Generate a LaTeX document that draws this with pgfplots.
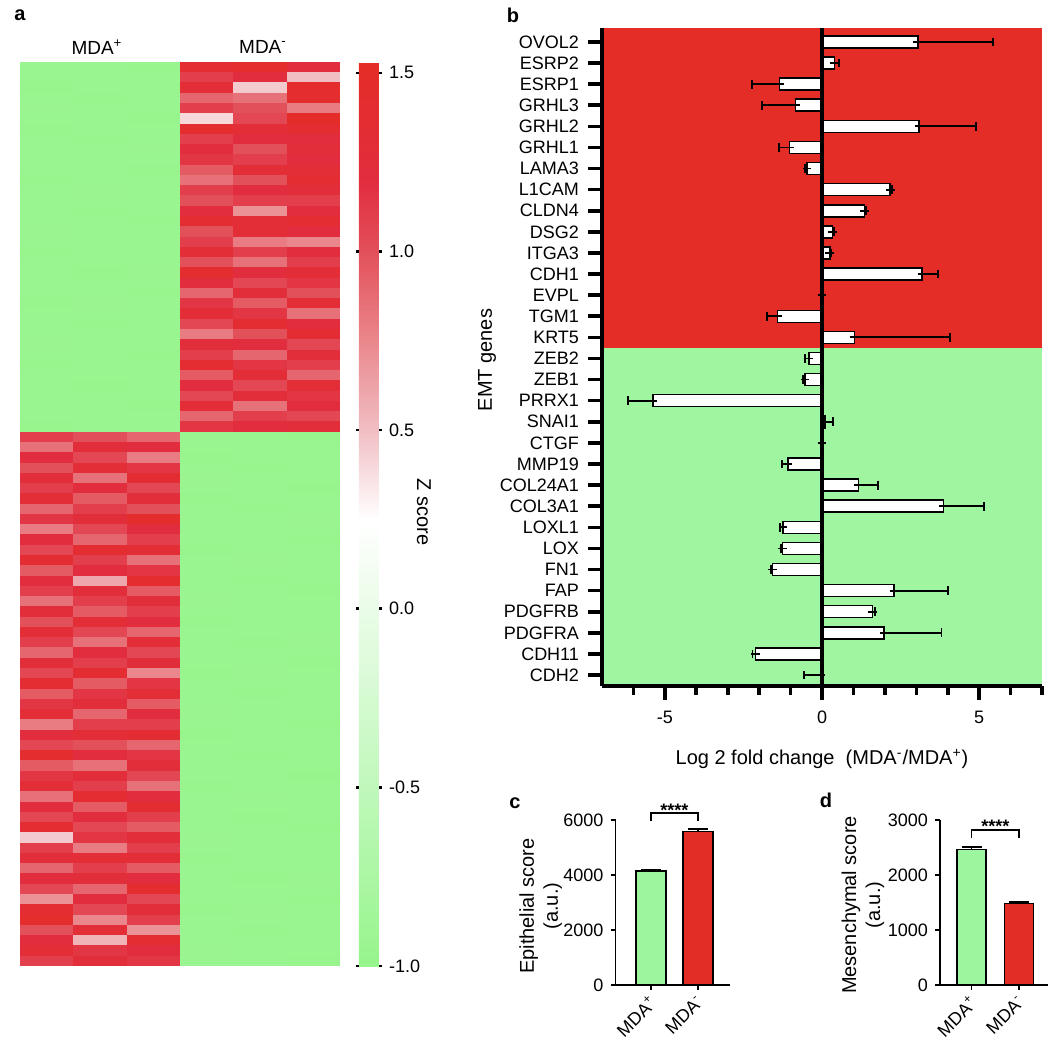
\documentclass[border=0pt]{standalone}
\usepackage{pgfplots}
\pgfplotsset{compat=1.18}
\usepackage{pgfplotstable}
\usepackage{fontspec}
\setmainfont{Liberation Sans}
\newcommand{\fs}{\fontsize{9}{10.8}\selectfont}
\definecolor{bgred}{RGB}{227,45,38}
\definecolor{bggreen}{RGB}{160,246,160}
\definecolor{bargreen}{RGB}{157,245,157}
\definecolor{barred}{RGB}{225,45,38}
\pgfplotsset{
  every axis/.append style={font=\fs},
  colormap={zmap}{rgb255(0pt)=(150,245,140); rgb255(50pt)=(192,248,187);
    rgb255(100pt)=(234,252,232); rgb255(125pt)=(255,255,255);
    rgb255(150pt)=(240,190,195); rgb255(175pt)=(234,135,140);
    rgb255(200pt)=(226,80,90); rgb255(220pt)=(226,45,62); rgb255(253pt)=(228,45,38)},
  heatcol/.style={scatter, only marks, mark=cell, point meta=explicit,
    scatter/use mapped color={draw=mapped color, fill=mapped color}},
}
\pgfdeclareplotmark{cell}{\pgfpathrectangle{\pgfqpoint{-13.4pt}{-2.62pt}}{\pgfqpoint{26.8pt}{5.24pt}}\pgfusepathqfill}

% heatmap: rows 0-35 upper block, 36-87 lower block
\pgfplotstableread{
r a1 a2 a3 b1 b2 b3
0 -0.97 -0.96 -0.98 1.35 1.45 1.20
1 -0.96 -0.97 -0.97 1.10 1.20 0.50
2 -0.98 -0.96 -0.97 1.30 0.45 1.45
3 -0.97 -0.98 -0.96 0.90 0.85 1.40
4 -0.95 -0.97 -0.97 1.10 1.00 0.80
5 -0.97 -0.96 -0.98 0.40 1.05 1.50
6 -0.98 -0.97 -0.96 1.40 1.30 1.35
7 -0.96 -0.98 -0.97 1.10 1.20 1.20
8 -0.97 -0.97 -0.95 1.20 1.00 1.25
9 -0.97 -0.96 -0.97 1.15 1.10 1.20
10 -0.96 -0.97 -0.98 0.95 1.30 1.30
11 -0.98 -0.97 -0.97 0.85 1.00 1.35
12 -0.97 -0.95 -0.96 1.10 1.20 1.25
13 -0.96 -0.97 -0.97 1.00 1.10 1.10
14 -0.97 -0.98 -0.97 1.20 0.70 1.20
15 -0.97 -0.96 -0.98 1.35 1.30 1.35
16 -0.95 -0.97 -0.97 1.00 1.30 1.20
17 -0.97 -0.97 -0.96 1.10 0.80 0.75
18 -0.98 -0.96 -0.97 1.30 1.10 1.20
19 -0.96 -0.97 -0.97 1.00 0.85 1.10
20 -0.97 -0.98 -0.95 1.40 1.20 1.30
21 -0.97 -0.96 -0.97 1.20 1.05 1.15
22 -0.96 -0.97 -0.98 0.90 1.25 1.00
23 -0.98 -0.95 -0.97 1.15 0.95 1.30
24 -0.97 -0.97 -0.96 1.30 1.15 0.85
25 -0.96 -0.98 -0.97 1.05 1.35 1.20
26 -0.97 -0.96 -0.97 0.80 1.00 1.35
27 -0.95 -0.97 -0.96 1.25 1.20 1.05
28 -0.97 -0.97 -0.98 1.10 0.90 1.25
29 -0.98 -0.96 -0.97 1.35 1.15 1.10
30 -0.96 -0.97 -0.97 0.95 1.30 0.90
31 -0.97 -0.98 -0.96 1.20 1.05 1.30
32 -0.97 -0.96 -0.97 1.05 1.25 1.15
33 -0.96 -0.97 -0.98 1.30 0.85 1.20
34 -0.97 -0.97 -0.97 0.90 1.10 1.05
35 -0.98 -0.96 -0.97 1.15 1.20 1.25
36 1.10 1.00 0.90 -0.97 -0.96 -0.98
37 0.85 1.25 1.20 -0.96 -0.97 -0.97
38 1.20 1.05 0.80 -0.98 -0.96 -0.97
39 1.00 1.30 1.15 -0.97 -0.98 -0.96
40 1.25 0.85 1.35 -0.95 -0.97 -0.97
41 1.10 1.20 1.05 -0.97 -0.96 -0.98
42 1.30 0.95 1.25 -0.98 -0.97 -0.96
43 0.90 1.10 1.00 -0.96 -0.98 -0.97
44 1.15 1.25 1.45 -0.97 -0.97 -0.95
45 0.80 1.05 1.20 -0.97 -0.96 -0.97
46 1.20 0.90 1.10 -0.96 -0.97 -0.98
47 1.05 1.35 1.30 -0.98 -0.97 -0.97
48 1.35 1.10 0.85 -0.97 -0.95 -0.96
49 0.95 1.20 1.15 -0.96 -0.97 -0.97
50 1.20 0.60 1.40 -0.97 -0.98 -0.97
51 1.10 1.25 0.95 -0.97 -0.96 -0.98
52 0.85 1.10 1.25 -0.95 -0.97 -0.97
53 1.25 0.95 1.10 -0.97 -0.97 -0.96
54 1.00 1.30 1.20 -0.98 -0.96 -0.97
55 1.30 1.05 0.90 -0.96 -0.97 -0.97
56 1.10 0.85 1.30 -0.97 -0.98 -0.95
57 0.90 1.20 1.05 -0.97 -0.96 -0.97
58 1.25 1.10 1.25 -0.96 -0.97 -0.98
59 1.05 1.35 0.75 -0.98 -0.95 -0.97
60 1.35 0.95 1.15 -0.97 -0.97 -0.96
61 0.95 1.15 1.30 -0.96 -0.98 -0.97
62 1.15 1.25 0.95 -0.97 -0.96 -0.97
63 1.30 0.90 1.20 -0.95 -0.97 -0.96
64 0.80 1.10 1.10 -0.97 -0.97 -0.98
65 1.20 1.30 1.35 -0.98 -0.96 -0.97
66 1.05 1.00 0.90 -0.96 -0.97 -0.97
67 1.40 1.20 1.15 -0.97 -0.98 -0.96
68 0.95 0.85 1.25 -0.97 -0.96 -0.97
69 1.15 1.25 1.05 -0.96 -0.97 -0.98
70 1.30 1.10 0.85 -0.98 -0.97 -0.97
71 0.85 1.35 1.20 -0.97 -0.95 -0.96
72 1.20 0.95 1.35 -0.96 -0.97 -0.97
73 1.05 1.20 1.10 -0.97 -0.98 -0.97
74 1.35 1.05 0.95 -0.97 -0.96 -0.98
75 0.45 1.15 1.25 -0.95 -0.97 -0.97
76 1.10 0.80 1.10 -0.97 -0.97 -0.96
77 1.25 1.30 1.30 -0.98 -0.96 -0.97
78 0.90 1.10 0.95 -0.96 -0.97 -0.97
79 1.20 1.25 1.20 -0.97 -0.98 -0.95
80 1.05 0.90 1.40 -0.97 -0.96 -0.97
81 0.70 1.20 1.05 -0.96 -0.97 -0.98
82 1.35 1.05 1.25 -0.98 -0.95 -0.97
83 1.45 0.75 1.10 -0.97 -0.97 -0.96
84 1.00 1.30 0.70 -0.96 -0.98 -0.97
85 1.20 0.55 1.35 -0.97 -0.96 -0.97
86 1.30 1.15 1.20 -0.95 -0.97 -0.96
87 1.10 1.25 1.15 -0.97 -0.97 -0.98
}\heat

% log2 fold change, one-sided errors
\pgfplotstableread{
i v ep em
0 3.05 2.38 0
1 0.40 0.14 0
2 -1.35 0 0.88
3 -0.85 0 1.06
4 3.09 1.80 0
5 -1.03 0 0.34
6 -0.48 0 0.06
7 2.17 0.06 0
8 1.35 0.05 0
9 0.34 0.05 0
10 0.25 0.04 0
11 3.18 0.50 0
12 0 0 0
13 -1.41 0 0.33
14 1.03 3.05 0
15 -0.42 0 0.12
16 -0.54 0 0.06
17 -5.38 0 0.80
18 0.09 0.25 0
19 0 0 0
20 -1.08 0 0.20
21 1.16 0.61 0
22 3.86 1.29 0
23 -1.24 0 0.10
24 -1.26 0 0.05
25 -1.58 0 0.04
26 2.29 1.71 0
27 1.60 0.08 0
28 1.97 1.83 0
29 -2.12 0 0.09
30 -0.03 0 0.54
}\fcdata

\begin{document}
\begin{tikzpicture}
\path[use as bounding box] (0,0) rectangle (525pt,-521pt);

% ---------- a ----------
\node[font=\fontsize{10}{12}\selectfont\bfseries] at (10pt,-7.5pt) {a};
\node at (48.5pt,-23.5pt) {\fontsize{9.5}{11}\selectfont MDA\textsuperscript{+}};
\node at (131.5pt,-23.5pt) {\fontsize{9.5}{11}\selectfont MDA\textsuperscript{-}};
\begin{axis}[at={(10pt,-31pt)}, anchor=north west, scale only axis,
  width=160pt, height=452pt,
  xmin=-0.5, xmax=5.5, ymin=-0.5, ymax=87.5, y dir=reverse, hide axis,
  colormap name=zmap, point meta min=-1, point meta max=1.53,
  colorbar, colorbar shift/.style={xshift=9.5pt},
  colorbar style={at={(parent axis.north east)}, anchor=north west,
    scale only axis, width=10pt, height=452pt,
    ytick={-1,-0.5,0,0.5,1,1.5}, yticklabels={-1.0,-0.5,0.0,0.5,1.0,1.5},
    tick align=outside, major tick length=1.5pt, tick style={line width=1.2pt, black},
    axis line style={draw=none}, yticklabel style={font=\fs}},
]
\addplot[heatcol] table[x expr=0, y=r, meta=a1] {\heat};
\addplot[heatcol] table[x expr=1, y=r, meta=a2] {\heat};
\addplot[heatcol] table[x expr=2, y=r, meta=a3] {\heat};
\addplot[heatcol] table[x expr=3, y=r, meta=b1] {\heat};
\addplot[heatcol] table[x expr=4, y=r, meta=b2] {\heat};
\addplot[heatcol] table[x expr=5, y=r, meta=b3] {\heat};
\end{axis}
\node[rotate=-90] at (212pt,-256pt) {Z score};

% ---------- b ----------
\node[font=\fontsize{10}{12}\selectfont\bfseries] at (256.5pt,-7.5pt) {b};
\begin{axis}[at={(301pt,-14pt)}, anchor=north west, scale only axis,
  width=220pt, height=329pt,
  xmin=-7, xmax=7, ymin=-0.66, ymax=30.52, y dir=reverse,
  axis x line*=bottom, axis y line*=left, axis line style={line width=2pt, -},
  axis on top,
  xtick={-5,0,5}, xticklabels={-5,0,5},
  minor xtick={-6,-4,-3,-2,-1,1,2,3,4,6,7},
  ytick={0,...,30},
  yticklabels={OVOL2,ESRP2,ESRP1,GRHL3,GRHL2,GRHL1,LAMA3,L1CAM,CLDN4,DSG2,ITGA3,CDH1,EVPL,TGM1,KRT5,ZEB2,ZEB1,PRRX1,SNAI1,CTGF,MMP19,COL24A1,COL3A1,LOXL1,LOX,FN1,FAP,PDGFRB,PDGFRA,CDH11,CDH2},
  tick align=outside, major tick length=7pt, minor tick length=4.5pt,
  tick style={line width=1.8pt, black},
  yticklabel style={xshift=-1pt},
  xticklabel style={yshift=-2pt},
  clip=false,
]
\fill[bgred] (axis cs:-7,-0.66) rectangle (axis cs:7,14.5);
\fill[bggreen] (axis cs:-7,14.5) rectangle (axis cs:7,30.52);
\addplot[xbar, bar width=6pt, bar shift=0pt, fill=white, draw=black, line width=0.75pt,
  error bars/.cd, x dir=both, x explicit, error mark=-,
  error bar style={line width=0.9pt, black},
  error mark options={rotate=90, line width=0.9pt, mark size=2.2pt, black}]
  table[x=v, y=i, x error plus=ep, x error minus=em] {\fcdata};
\draw[line width=2pt] (axis cs:0,-0.66) -- (axis cs:0,30.52);
\end{axis}
\node[rotate=90] at (243.5pt,-180pt) {EMT genes};
\node at (411pt,-379.5pt) {Log 2 fold change\ \ (MDA\textsuperscript{-}/MDA\textsuperscript{+})};

% ---------- c ----------
\node[font=\fontsize{10}{12}\selectfont\bfseries] at (257.5pt,-401.5pt) {c};
\begin{axis}[at={(307.75pt,-492.5pt)}, anchor=south west, scale only axis,
  width=57pt, height=82.5pt,
  xmin=0.245, xmax=2.67, ymin=0, ymax=6000, scaled y ticks=false,
  axis x line*=bottom, axis y line*=left, axis line style={line width=0.8pt, -},
  xtick={1,2}, xticklabels={MDA\textsuperscript{+},MDA\textsuperscript{-}},
  ytick={0,2000,4000,6000}, yticklabels={0,2000,4000,6000},
  tick align=outside, major tick length=2.5pt, tick style={line width=0.8pt, black},
  xticklabel style={rotate=45, anchor=east, xshift=1pt, yshift=-4pt},
  clip=false,
]
\addplot[ybar, bar width=15pt, bar shift=0pt, fill=bargreen, draw=black, line width=0.8pt,
  error bars/.cd, y dir=plus, y explicit, error mark=-,
  error bar style={line width=0.9pt, black}, error mark options={rotate=90, line width=0.9pt, mark size=5pt, black}]
  coordinates {(1,4150) +- (0,50)};
\addplot[ybar, bar width=15pt, bar shift=0pt, fill=barred, draw=black, line width=0.8pt,
  error bars/.cd, y dir=plus, y explicit, error mark=-,
  error bar style={line width=0.9pt, black}, error mark options={rotate=90, line width=0.9pt, mark size=5pt, black}]
  coordinates {(2,5575) +- (0,95)};
\draw[line width=0.7pt] (axis cs:1,5970) -- (axis cs:1,6260) -- (axis cs:2,6260) -- (axis cs:2,5970);
\node[anchor=base, font=\fs\bfseries] at (axis cs:1.5,6145) {****};
\end{axis}
\node[rotate=90, align=center] at (270.3pt,-453pt) {Epithelial score\\(a.u.)};

% ---------- d ----------
\node[font=\fontsize{10}{12}\selectfont\bfseries] at (413pt,-400pt) {d};
\begin{axis}[at={(470pt,-492.5pt)}, anchor=south west, scale only axis,
  width=54pt, height=82.5pt,
  xmin=0.337, xmax=2.61, ymin=0, ymax=3000, scaled y ticks=false,
  axis x line*=bottom, axis y line*=left, axis line style={line width=0.8pt, -},
  xtick={1,2}, xticklabels={MDA\textsuperscript{+},MDA\textsuperscript{-}},
  ytick={0,1000,2000,3000}, yticklabels={0,1000,2000,3000},
  tick align=outside, major tick length=2.5pt, tick style={line width=0.8pt, black},
  xticklabel style={rotate=45, anchor=east, xshift=1pt, yshift=-4pt},
  clip=false,
]
\addplot[ybar, bar width=14.5pt, bar shift=0pt, fill=bargreen, draw=black, line width=0.8pt,
  error bars/.cd, y dir=plus, y explicit, error mark=-,
  error bar style={line width=0.9pt, black}, error mark options={rotate=90, line width=0.9pt, mark size=5pt, black}]
  coordinates {(1,2467) +- (0,48)};
\addplot[ybar, bar width=14.5pt, bar shift=0pt, fill=barred, draw=black, line width=0.8pt,
  error bars/.cd, y dir=plus, y explicit, error mark=-,
  error bar style={line width=0.9pt, black}, error mark options={rotate=90, line width=0.9pt, mark size=5pt, black}]
  coordinates {(2,1485) +- (0,24)};
\draw[line width=0.7pt] (axis cs:1,2673) -- (axis cs:1,2818) -- (axis cs:2,2818) -- (axis cs:2,2673);
\node[anchor=base, font=\fs\bfseries] at (axis cs:1.5,2764) {****};
\end{axis}
\node[rotate=90, align=center] at (431.5pt,-452.5pt) {Mesenchymal score\\(a.u.)};
\end{tikzpicture}
\end{document}
